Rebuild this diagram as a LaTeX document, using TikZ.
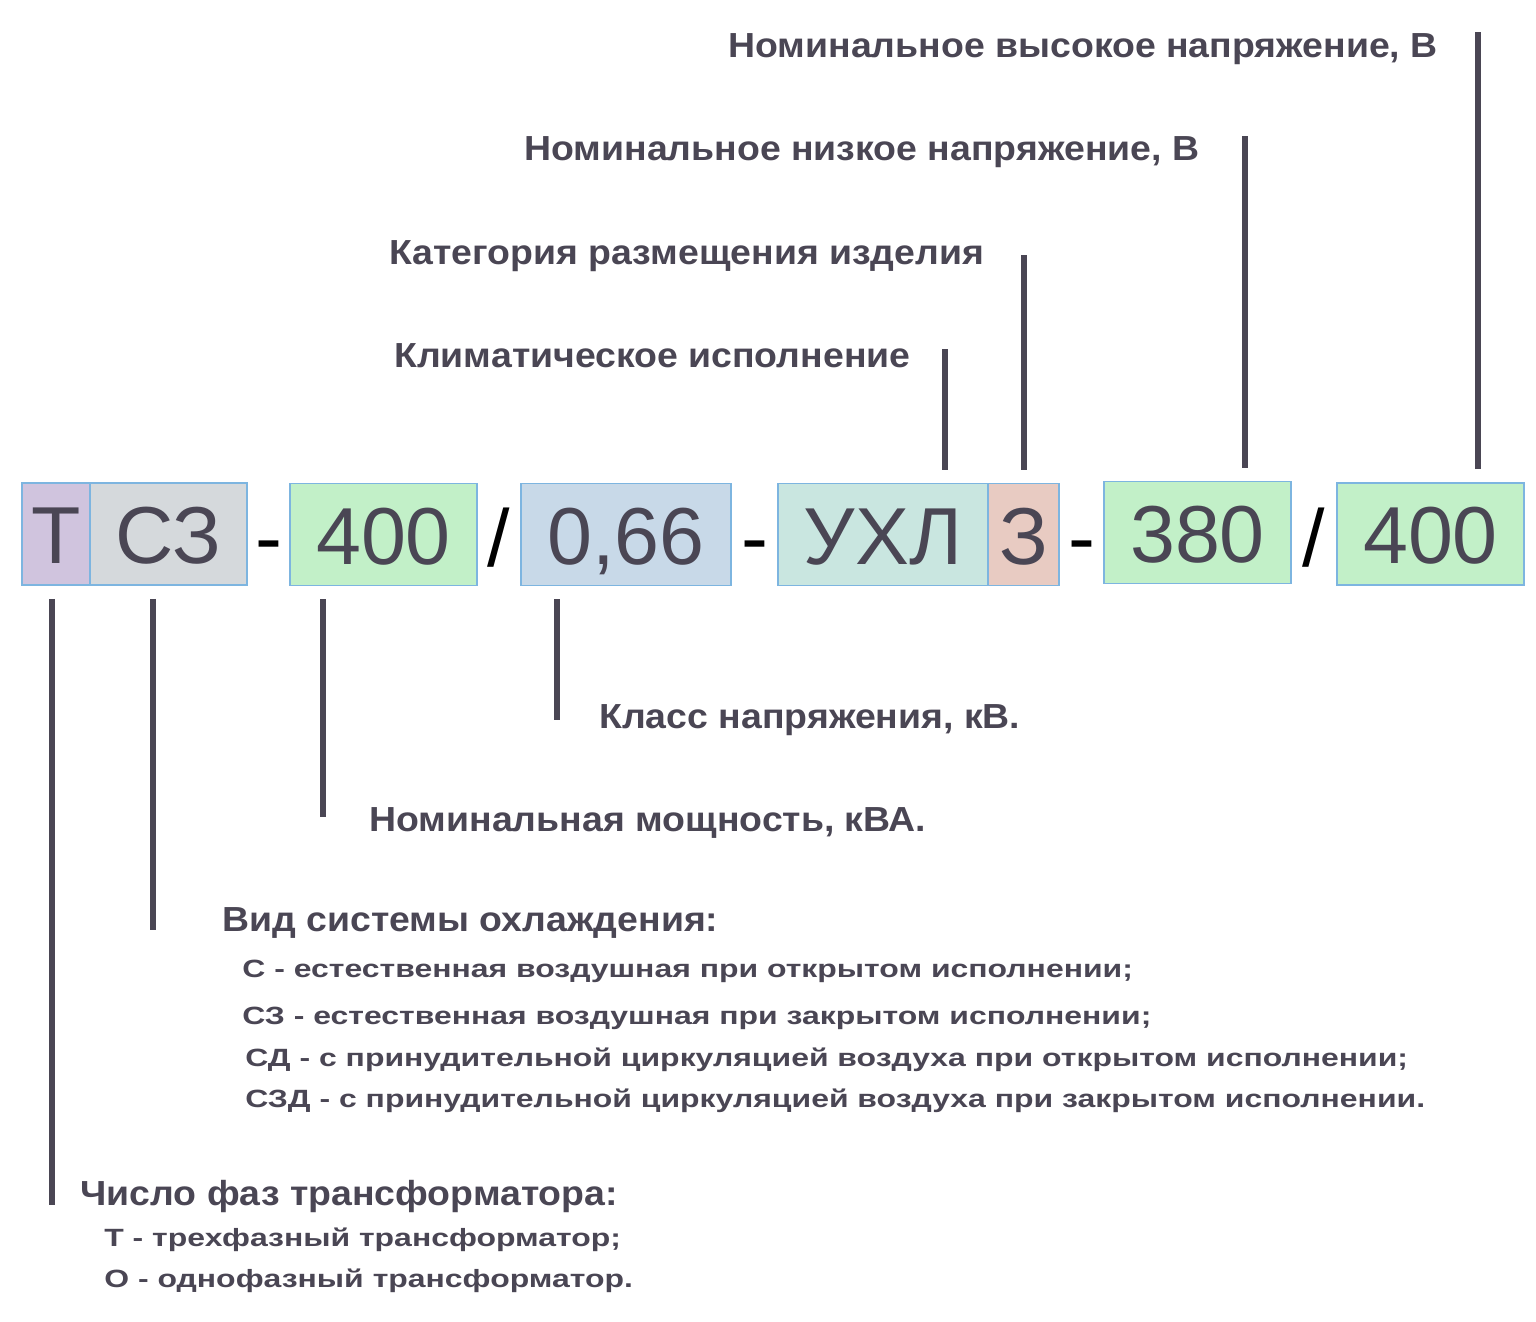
\documentclass[tikz,border=0pt]{standalone}
\usepackage{fontspec}
\setmainfont{Liberation Sans}
\newfontfamily\labelfamily[FakeStretch=1.076]{Liberation Sans}
\newfontfamily\itemfamily[FakeStretch=1.28]{Liberation Sans}
\usepackage{tikz}
\definecolor{ink}{HTML}{4A4654}
\definecolor{edge}{HTML}{7DB5E0}
\definecolor{fillT}{HTML}{D0C4DE}
\definecolor{fillS}{HTML}{D5D9DC}
\definecolor{fillG}{HTML}{C2F0C8}
\definecolor{fillB}{HTML}{C8D9E8}
\definecolor{fillC}{HTML}{C9E6E0}
\definecolor{fillR}{HTML}{E8CBC2}
\newcommand*{\bigfont}{\fontsize{46}{50}\selectfont}
\newcommand*{\labelfont}{\labelfamily\bfseries\fontsize{19.8}{22}\selectfont}
\newcommand*{\itemfont}{\itemfamily\bfseries\fontsize{14.2}{16}\selectfont}

\begin{document}
\begin{tikzpicture}[x=0.02cm, y=-0.02cm,
    lead/.style={draw=ink, line width=3.4pt, shorten <=0.26cm}]
  \useasboundingbox (0,0) rectangle (1536,1322);

  % code boxes
  {\tikzstyle{every node}=[draw=edge, line width=1.1pt, minimum height=2.04cm,
     text height=1.18cm, text depth=0pt, inner sep=0pt, text=ink, font=\bigfont]
    \node[fill=fillT, minimum width=1.36cm] (T) at (56,534) {Т};
    \node[fill=fillS, minimum width=3.14cm] (S) at (168.5,534) {СЗ};
    \node[fill=fillG, minimum width=3.74cm] (P) at (383.5,534.5) {400};
    \node[fill=fillB, minimum width=4.2cm] (U) at (626,534.5) {0,66};
    \node[fill=fillC, minimum width=4.2cm] (K) at (883,534.5) {УХЛ};
    \node[fill=fillR, minimum width=1.42cm] (Z) at (1023.5,534.5) {З};
    \node[fill=fillG, minimum width=3.74cm] (L) at (1197.5,532.5) {380};
    \node[fill=fillG, minimum width=3.74cm] (H) at (1430.5,534) {400};
  }

  % separators
  {\tikzstyle{every node}=[anchor=base, inner sep=0pt, font=\bigfont]
    \foreach \x in {268.5, 754.5, 1081.5}
    {
      \node (dash\x) at (\x,565) {-};
    }
    \foreach \x in {499, 1314}
    {
      \node (slash\x) at (\x,566) {/};
    }
  }

  % leader lines
  \foreach \b/\x/\y in {T/52/1205, S/153/930, P/323/817, U/557/720}
  {
    \coordinate (\b-end) at (\x,\y);
    \draw[lead] (\b.south -| \b-end) -- (\b-end);
  }
  \foreach \b/\x/\y in {K/945/349, Z/1024/255, L/1245/136, H/1478/32}
  {
    \coordinate (\b-end) at (\x,\y);
    \draw[lead] (\b.north -| \b-end) -- (\b-end);
  }

  % labels
  {\tikzstyle{every node}=[anchor=base west, inner sep=0pt, text=ink, font=\labelfont]
    \node (hv) at (728,57) {Номинальное высокое напряжение, В};
    \node (lv) at (524,160) {Номинальное низкое напряжение, В};
    \node (cat) at (389,264) {Категория размещения изделия};
    \node (clim) at (394,367) {Климатическое исполнение};
    \node (cls) at (599,728) {Класс напряжения, кВ.};
    \node (pow) at (369,831) {Номинальная мощность, кВА.};
    \node (cool) at (222,931) {Вид системы охлаждения:};
    \node (phase) at (80,1205) {Число фаз трансформатора:};
  }
  {\tikzstyle{every node}=[anchor=base west, inner sep=0pt, text=ink, font=\itemfont]
    \node (cool1) at (242,977) {С - естественная воздушная при открытом исполнении;};
    \node (cool2) at (242,1024) {СЗ - естественная воздушная при закрытом исполнении;};
    \node (cool3) at (245,1066) {СД - с принудительной циркуляцией воздуха при открытом исполнении;};
    \node (cool4) at (245,1107) {СЗД - с принудительной циркуляцией воздуха при закрытом исполнении.};
    \node (phase1) at (104,1246) {Т - трехфазный трансформатор;};
    \node (phase2) at (104,1287) {О - однофазный трансформатор.};
  }
\end{tikzpicture}
\end{document}
